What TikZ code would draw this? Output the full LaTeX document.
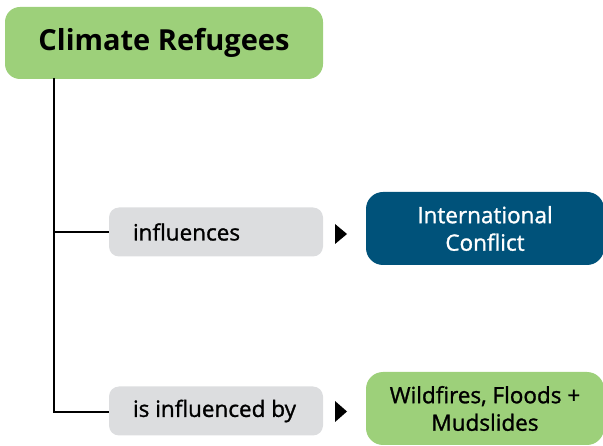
\documentclass[tikz,border=0pt]{standalone}
\usepackage{fontspec}
\setmainfont{Open Sans}
\definecolor{titlegreen}{HTML}{9DD07A}
\definecolor{relgrey}{HTML}{DCDDDF}
\definecolor{darkblue}{HTML}{00527A}
\newcommand{\reltext}[1]{\makebox[166pt][l]{#1}}
\begin{document}
\begin{tikzpicture}[x=1pt,y=-1pt,
  titlebox/.style={fill=titlegreen,rounded corners=15pt,minimum width=318pt,minimum height=72pt,inner sep=0pt,font=\fontsize{29}{32}\selectfont\bfseries},
  relbox/.style={fill=relgrey,rounded corners=10pt,minimum width=214pt,minimum height=49pt,inner xsep=24pt,inner ysep=0pt,font=\fontsize{22.5}{26}\selectfont\addfontfeature{FakeBold=1.2}},
  conceptbox/.style={rounded corners=17pt,minimum width=238pt,minimum height=73pt,inner sep=0pt,align=center,font=\fontsize{22.5}{27.5}\selectfont\addfontfeature{FakeBold=1.2}},
  arrowtri/.style={fill=black,draw=none},
  connector/.style={draw=black,line width=1.2pt}]
\useasboundingbox (0,0) rectangle (603,446);
\node[titlebox] (title) at (164,43) {Climate Refugees};
\node[relbox] (rel1) at (216,232) {\reltext{influences}};
\node[relbox] (rel2) at (216,411) {\reltext{is influenced by}};
\node[conceptbox,fill=darkblue,text=white] (c1) at (485,228.5) {International\\Conflict};
\node[conceptbox,fill=titlegreen,text=black] (c2) at (485,408.5) {Wildfires, Floods +\\Mudslides};
\coordinate (top) at (54,78);
\coordinate (j1) at (54,232);
\coordinate (j2) at (54,412);
\draw[connector] (top) -- (j2) -- (rel2.west |- j2);
\draw[connector] (j1) -- (rel1.west);
\fill[arrowtri] (335,224) -- (347,234) -- (335,244) -- cycle;
\fill[arrowtri] (335,401) -- (347,411.5) -- (335,422) -- cycle;
\end{tikzpicture}
\end{document}
